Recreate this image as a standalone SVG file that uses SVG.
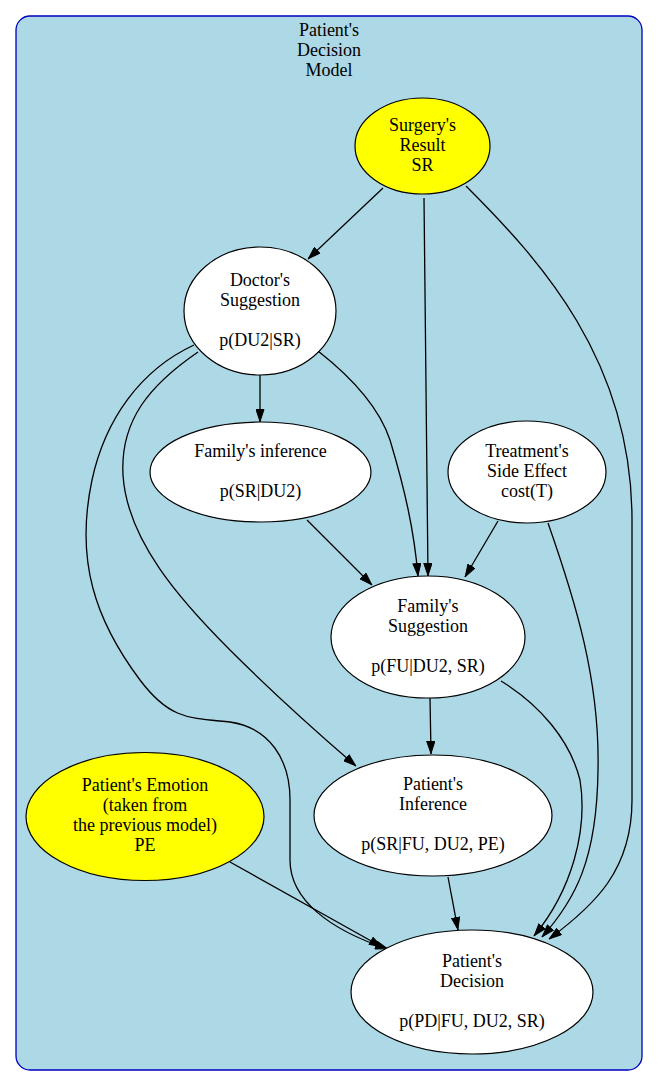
<svg xmlns="http://www.w3.org/2000/svg" width="659" height="1086" viewBox="0 0 659 1086">
<defs>
<style>
text{font-family:"Liberation Serif","Times New Roman",serif;font-size:18px;fill:#000;text-anchor:middle}
.n{stroke:#000;stroke-width:1.2}
.w{fill:#fff}
.y{fill:#ffff00}
.e{fill:none;stroke:#000;stroke-width:1.3}
</style>
<marker id="ah" viewBox="0 0 13 9" refX="13" refY="4.5" markerWidth="13" markerHeight="9" markerUnits="userSpaceOnUse" orient="auto">
<path d="M0.5,0.5 L12.5,4.5 L0.5,8.5 z" fill="#000" stroke="#000" stroke-width="1"/>
</marker>
</defs>
<rect x="0" y="0" width="659" height="1086" fill="#fff"/>
<g id="cluster">
<rect x="16" y="16" width="626" height="1054" rx="14" ry="14" fill="#add8e6" stroke="#0000c0" stroke-width="1.3"/>
<text x="329" y="36">Patient's</text>
<text x="329" y="56">Decision</text>
<text x="329" y="76">Model</text>
</g>
<g id="edges">
<path class="e" marker-end="url(#ah)" d="M383,188 L308,259"/>
<path class="e" marker-end="url(#ah)" d="M424,198 L428,576"/>
<path class="e" marker-end="url(#ah)" d="M466,186 C540,260 632,360 632,520 L632,800 C632,870 595,905 549,939"/>
<path class="e" marker-end="url(#ah)" d="M260,375 L260,422"/>
<path class="e" marker-end="url(#ah)" d="M318,351 C355,380 380,410 390,440 C405,490 414,530 418,576"/>
<path class="e" marker-end="url(#ah)" d="M198,352 C150,385 120,420 123,475 C127,540 180,600 230,650 C270,690 320,735 356,766"/>
<path class="e" marker-end="url(#ah)" d="M194,345 C140,370 105,420 92,480 C75,560 95,620 140,680 C170,720 190,718 230,722 C270,728 290,760 290,800 L290,860 C290,900 330,930 388,949"/>
<path class="e" marker-end="url(#ah)" d="M307,520 L372,585"/>
<path class="e" marker-end="url(#ah)" d="M498,521 L465,577"/>
<path class="e" marker-end="url(#ah)" d="M548,523 C575,600 600,680 598,770 C597,860 575,900 542,937"/>
<path class="e" marker-end="url(#ah)" d="M501,681 C540,705 570,740 580,780 C588,830 572,890 534,936"/>
<path class="e" marker-end="url(#ah)" d="M430,698 L431,754"/>
<path class="e" marker-end="url(#ah)" d="M448,877 L458,930"/>
<path class="e" marker-end="url(#ah)" d="M230,862 L382,947"/>
</g>
<g id="SR">
<ellipse class="n y" cx="422.5" cy="146" rx="67.5" ry="48"/>
<text x="422.5" y="131">Surgery's</text>
<text x="422.5" y="151">Result</text>
<text x="422.5" y="171">SR</text>
</g>
<g id="DU2">
<ellipse class="n w" cx="260" cy="311" rx="76" ry="64"/>
<text x="260" y="285.5">Doctor's</text>
<text x="260" y="305.5">Suggestion</text>
<text x="260" y="345.5">p(DU2|SR)</text>
</g>
<g id="FI">
<ellipse class="n w" cx="260.5" cy="472" rx="110.5" ry="50"/>
<text x="260.5" y="456.5">Family's inference</text>
<text x="260.5" y="496.5">p(SR|DU2)</text>
</g>
<g id="T">
<ellipse class="n w" cx="527" cy="472" rx="79" ry="51"/>
<text x="527" y="456.5">Treatment's</text>
<text x="527" y="476.5">Side Effect</text>
<text x="527" y="496.5">cost(T)</text>
</g>
<g id="FU">
<ellipse class="n w" cx="428" cy="637" rx="97" ry="61"/>
<text x="428" y="611.5">Family's</text>
<text x="428" y="631.5">Suggestion</text>
<text x="428" y="671.5">p(FU|DU2, SR)</text>
</g>
<g id="PE">
<ellipse class="n y" cx="145" cy="816.5" rx="119" ry="64"/>
<text x="145" y="791">Patient's Emotion</text>
<text x="145" y="811">(taken from</text>
<text x="145" y="831">the previous model)</text>
<text x="145" y="851">PE</text>
</g>
<g id="PI">
<ellipse class="n w" cx="433" cy="815.5" rx="119" ry="60.5"/>
<text x="433" y="790">Patient's</text>
<text x="433" y="810">Inference</text>
<text x="433" y="850">p(SR|FU, DU2, PE)</text>
</g>
<g id="PD">
<ellipse class="n w" cx="472" cy="992" rx="121" ry="62"/>
<text x="472" y="966.5">Patient's</text>
<text x="472" y="986.5">Decision</text>
<text x="472" y="1026.5">p(PD|FU, DU2, SR)</text>
</g>
</svg>
